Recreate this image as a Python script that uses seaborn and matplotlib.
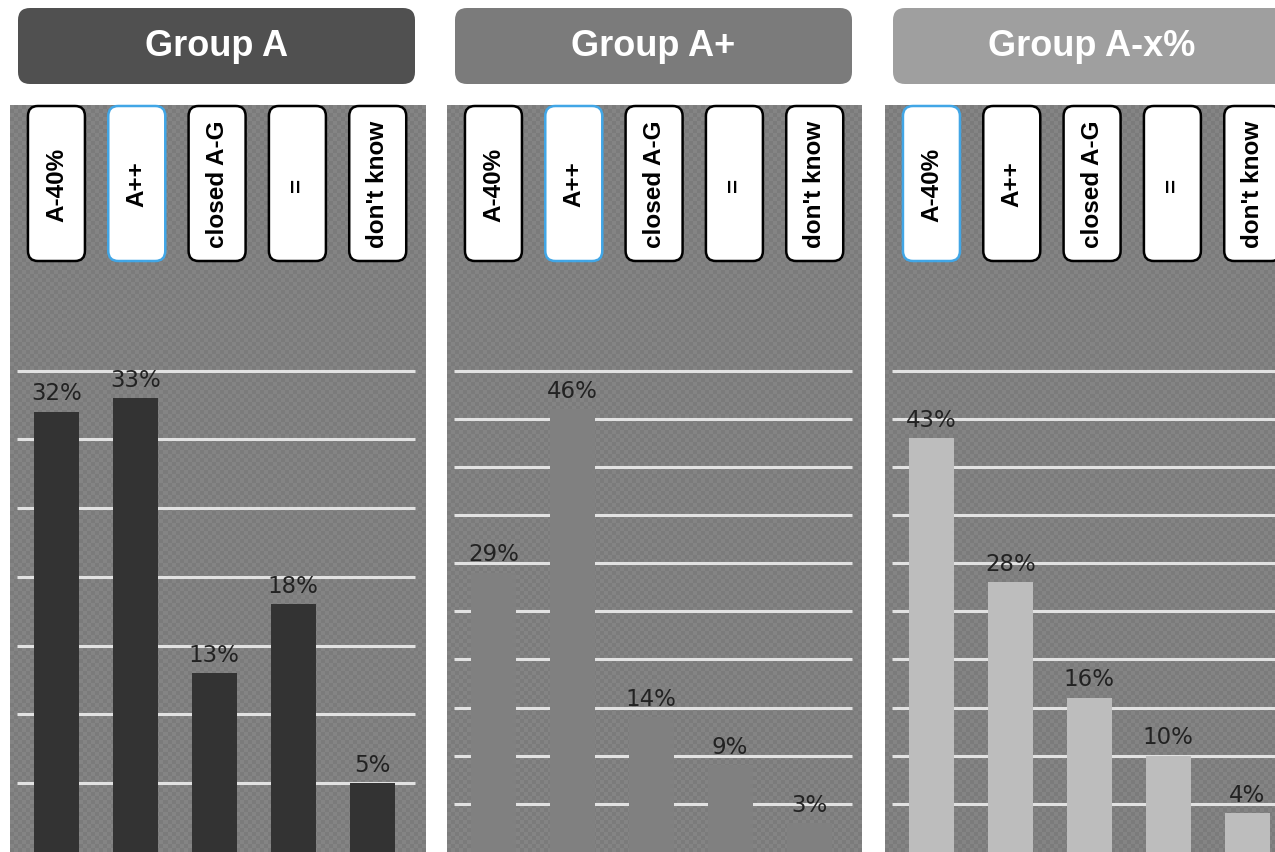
import numpy as np
import pandas as pd
import matplotlib
matplotlib.use("Agg")
import matplotlib.pyplot as plt
from matplotlib.patches import FancyBboxPatch
from matplotlib.colors import ListedColormap
import seaborn as sns

# ---- data -------------------------------------------------------------
categories = ["A-40%", "A++", "closed A-G", "=", "don't know"]
groups = ["Group A", "Group A+", "Group A-x%"]
values_group_a = [32, 33, 13, 18, 5]
values_group_a_plus = [29, 46, 14, 9, 3]
values_group_a_x = [43, 28, 16, 10, 4]
highlighted = ["A++", "A++", "A-40%"]

# ---- styling ----------------------------------------------------------
bar_colors = ["#333333", "#808080", "#bdbdbd"]
header_colors = ["#505050", "#7b7b7b", "#9f9f9f"]
y_top = [54.3, 77.6, 77.6]
grid_top = [35, 50, 50]
highlight_color = "#41a6e6"

sns.set_theme(style="white")

W, H, DPI = 1275, 853, 100
fig = plt.figure(figsize=(W / DPI, H / DPI), dpi=DPI)
fig.patch.set_facecolor("white")

panel_left = [10, 447, 885]
panel_width = 415
panel_top = 106
inset_l = 7
unit = 78.9                # pixels per category slot
grid_extra_px = 3          # gridlines run a little past the last slot
tag_step = 1.018           # tags are spaced slightly wider than the bars

checker_cmap = ListedColormap(["#848484", "#7b7b7b"])

all_values = [values_group_a, values_group_a_plus, values_group_a_x]
n = len(categories)

for k, (group, vals) in enumerate(zip(groups, all_values)):
    ax = fig.add_axes([panel_left[k] / W, 0, panel_width / W, (H - panel_top) / H])
    ax.set_facecolor("none")

    # fine checkered backdrop
    nx, ny = panel_width // 4, (H - panel_top) // 4
    yy, xx = np.indices((ny, nx))
    ax.imshow((xx + yy) % 2, cmap=checker_cmap, extent=(0, 1, 0, 1),
              transform=ax.transAxes, interpolation="nearest",
              aspect="auto", zorder=0)

    df = pd.DataFrame({"category": categories, "value": vals})
    sns.barplot(data=df, x="category", y="value", color=bar_colors[k],
                saturation=1, width=45 / unit, ax=ax, zorder=3,
                edgecolor="none", linewidth=0)

    x0 = -0.5 - inset_l / unit
    x1 = x0 + panel_width / unit
    ax.hlines(np.arange(5, grid_top[k] + 1, 5), -0.5, n - 0.5 + grid_extra_px / unit,
              color="#e2e2e2", lw=2.2, zorder=2)

    ax.set_xlim(x0, x1)
    ax.set_ylim(0, y_top[k])
    ax.set_xlabel("")
    ax.set_ylabel("")
    ax.set_xticks([])
    ax.set_yticks([])
    for s in ax.spines.values():
        s.set_visible(False)

    for i, v in enumerate(vals):
        ax.annotate(f"{v}%", (i, v), xytext=(0, 9), textcoords="offset points",
                    ha="center", va="baseline", fontsize=16.5, color="#222222",
                    family="DejaVu Sans", zorder=5)

    # category tags at the top of each panel
    for i, cat in enumerate(categories):
        cx = ax.transData.transform((i * tag_step, 0))[0]
        bw, bh = 57, 155
        edge = highlight_color if cat == highlighted[k] else "black"
        box = FancyBboxPatch(((cx - bw / 2) / DPI, (H - panel_top - 1 - bh) / DPI),
                             bw / DPI, bh / DPI,
                             boxstyle="round,pad=0,rounding_size=0.1",
                             transform=fig.dpi_scale_trans,
                             facecolor="white", edgecolor=edge, lw=1.8, zorder=3)
        fig.add_artist(box)
        fig.text(cx / W, (H - panel_top - 1 - bh / 2) / H, cat, rotation=90,
                 ha="center", va="center", fontsize=17.5, fontweight="bold",
                 family="Liberation Sans", color="black", zorder=4)

    # group header
    hx = panel_left[k] + 8
    header = FancyBboxPatch((hx / DPI, (H - 85) / DPI), 397 / DPI, 76 / DPI,
                            boxstyle="round,pad=0,rounding_size=0.12",
                            transform=fig.dpi_scale_trans,
                            facecolor=header_colors[k], edgecolor="none", zorder=3)
    fig.add_artist(header)
    fig.text((hx + 198.5) / W, (H - 47) / H, group, ha="center", va="center",
             fontsize=26, fontweight="bold", family="Liberation Sans",
             color="white", zorder=4)

fig.savefig("out.png", dpi=DPI)
